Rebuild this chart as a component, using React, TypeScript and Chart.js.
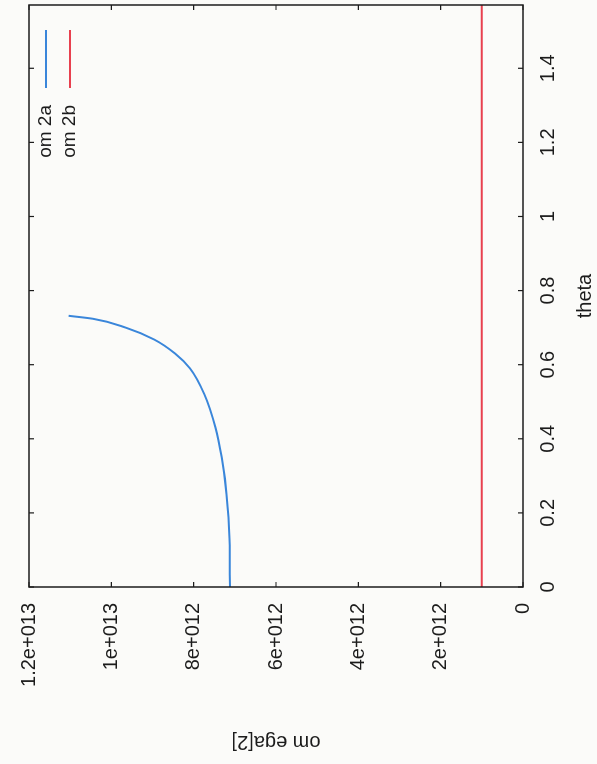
import React, { useEffect, useRef } from "react";
import { Chart, registerables } from "chart.js";

Chart.register(...registerables);

// ---- data ----
const thetaA = [0, 0.13, 0.25, 0.35, 0.43, 0.52, 0.59, 0.63, 0.668, 0.7, 0.724, 0.732];
const omegaA = [7.12e12, 7.13e12, 7.2e12, 7.32e12, 7.47e12, 7.74e12, 8.09e12, 8.45e12, 8.96e12, 9.65e12, 10.45e12, 11.04e12];
const thetaB = [0, 1.5708];
const omegaB = [1e12, 1e12];
const seriesLabels = ["om 2a", "om 2b"];
const seriesColors = ["#3a86da", "#e8404f"];

const xTickValues = [0, 0.2, 0.4, 0.6, 0.8, 1, 1.2, 1.4];
const xTickLabels = ["0", "0.2", "0.4", "0.6", "0.8", "1", "1.2", "1.4"];
const yTickValues = [0, 2e12, 4e12, 6e12, 8e12, 1e13, 1.2e13];
const yTickLabels = ["0", "2e+012", "4e+012", "6e+012", "8e+012", "1e+013", "1.2e+013"];
const xTitle = "theta";
const yTitle = "om ega[2]";
const xMin = 0;
const xMax = 1.5708;
const yMin = 0;
const yMax = 1.2e13;

const FONT = '"Liberation Sans", Arial, Helvetica, sans-serif';
const INK = "#1c1c1c";

const framePlugin = {
  id: "frame",
  afterDatasetsDraw(chart: any) {
    const { ctx, chartArea } = chart;
    const { left, right, top, bottom } = chartArea;
    const xs = chart.scales.x;
    const ys = chart.scales.y;
    ctx.save();
    ctx.strokeStyle = INK;
    ctx.lineWidth = 1.5;
    ctx.strokeRect(left, top, right - left, bottom - top);
    const tl = 5;
    ctx.lineWidth = 1.2;
    ctx.beginPath();
    xTickValues.forEach((v) => {
      const px = xs.getPixelForValue(v);
      ctx.moveTo(px, bottom);
      ctx.lineTo(px, bottom - tl);
      ctx.moveTo(px, top);
      ctx.lineTo(px, top + tl);
    });
    yTickValues.forEach((v) => {
      const py = ys.getPixelForValue(v);
      ctx.moveTo(left, py);
      ctx.lineTo(left + tl, py);
      ctx.moveTo(right, py);
      ctx.lineTo(right - tl, py);
    });
    ctx.stroke();

    // key (gnuplot style: text then line sample)
    ctx.font = `19px ${FONT}`;
    ctx.textAlign = "right";
    ctx.textBaseline = "middle";
    chart.data.datasets.forEach((ds: any, i: number) => {
      const y = top + 17 + i * 24;
      ctx.fillStyle = INK;
      ctx.fillText(ds.label, right - 100, y);
      ctx.strokeStyle = ds.borderColor;
      ctx.lineWidth = 2;
      ctx.beginPath();
      ctx.moveTo(right - 83, y);
      ctx.lineTo(right - 25, y);
      ctx.stroke();
    });
    ctx.restore();
  },
};

export default function App() {
  const ref = useRef<HTMLCanvasElement | null>(null);

  useEffect(() => {
    if (!ref.current) return;
    const chart = new Chart(ref.current, {
      type: "scatter",
      data: {
        datasets: [
          {
            label: seriesLabels[0],
            data: thetaA.map((t, i) => ({ x: t, y: omegaA[i] })),
            showLine: true,
            borderColor: seriesColors[0],
            backgroundColor: seriesColors[0],
            borderWidth: 2,
            pointRadius: 0,
            cubicInterpolationMode: "monotone",
          },
          {
            label: seriesLabels[1],
            data: thetaB.map((t, i) => ({ x: t, y: omegaB[i] })),
            showLine: true,
            borderColor: seriesColors[1],
            backgroundColor: seriesColors[1],
            borderWidth: 2,
            pointRadius: 0,
          },
        ],
      },
      options: {
        animation: false,
        responsive: false,
        events: [],
        layout: { padding: { top: 29, right: 5, bottom: 0, left: 0 } },
        plugins: {
          legend: { display: false },
          tooltip: { enabled: false },
        },
        scales: {
          x: {
            type: "linear",
            min: xMin,
            max: xMax,
            grid: { display: false, drawTicks: false },
            border: { display: false },
            afterBuildTicks: (s: any) => {
              s.ticks = xTickValues.map((v) => ({ value: v }));
            },
            afterFit: (s: any) => {
              s.height = 74;
            },
            ticks: {
              autoSkip: false,
              maxRotation: 0,
              padding: 13,
              color: INK,
              font: { family: FONT, size: 20 },
              callback: (_v: any, i: number) => xTickLabels[i],
            },
            title: {
              display: true,
              text: xTitle,
              color: INK,
              font: { family: FONT, size: 20 },
              padding: { top: 0, bottom: 0 },
            },
          },
          y: {
            type: "linear",
            min: yMin,
            max: yMax,
            grid: { display: false, drawTicks: false },
            border: { display: false },
            afterBuildTicks: (s: any) => {
              s.ticks = yTickValues.map((v) => ({ value: v }));
            },
            afterFit: (s: any) => {
              s.width = 177;
            },
            ticks: {
              autoSkip: false,
              padding: 16,
              color: INK,
              font: { family: FONT, size: 20 },
              callback: (_v: any, i: number) => yTickLabels[i],
            },
            title: {
              display: true,
              text: yTitle,
              color: INK,
              font: { family: FONT, size: 20 },
              padding: { top: 10, bottom: 0 },
            },
          },
        },
      },
      plugins: [framePlugin],
    } as any);
    return () => chart.destroy();
  }, []);

  return (
    <div
      style={{
        position: "fixed",
        left: 0,
        top: 0,
        width: 597,
        height: 764,
        background: "#fbfbf9",
        overflow: "hidden",
      }}
    >
      <div
        style={{
          position: "absolute",
          left: 0,
          top: 0,
          width: 764,
          height: 597,
          transformOrigin: "0 0",
          transform: "translate(0px, 764px) rotate(-90deg)",
        }}
      >
        <canvas ref={ref} width={764} height={597} style={{ display: "block" }} />
      </div>
    </div>
  );
}
